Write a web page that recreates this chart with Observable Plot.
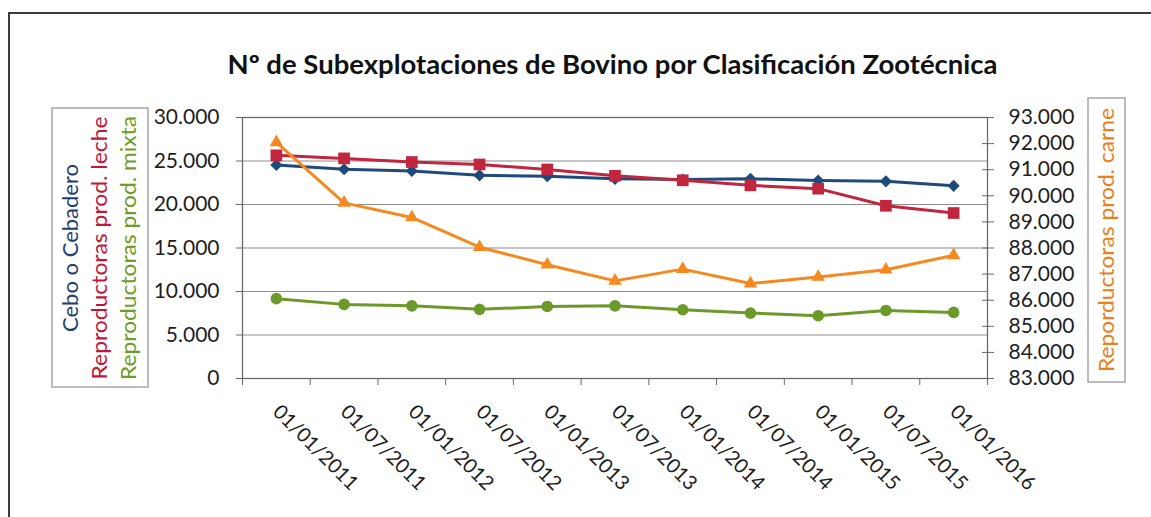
<!DOCTYPE html>
<html><head><meta charset="utf-8">
<script src="https://cdn.jsdelivr.net/npm/d3@7"></script>
<script src="https://cdn.jsdelivr.net/npm/@observablehq/plot@0.6"></script>
<style>
body{margin:0;background:#fff;}
#wrap{position:relative;width:1151px;height:517px;overflow:hidden;background:#fff;}
#frame{position:absolute;left:8px;top:12px;width:1300px;height:700px;border:2px solid #3c3c3c;}
.layer{position:absolute;left:0;top:0;}
</style>
</head><body>
<div id="wrap">
  <div id="frame"></div>
  <svg id="deco" class="layer" width="1151" height="517" font-family="Lato, sans-serif">
    <text id="title" x="612.5" y="74" text-anchor="middle" font-weight="bold" font-size="26" fill="#111" textLength="770" lengthAdjust="spacingAndGlyphs">Nº de Subexplotaciones de Bovino por Clasificación Zootécnica</text>
    <rect x="52" y="108" width="96" height="279" fill="none" stroke="#a6a6a6" stroke-width="1.5"/>
    <rect x="1088" y="98" width="37" height="284" fill="none" stroke="#a6a6a6" stroke-width="1.5"/>
    <g id="legL" font-size="20.5"></g>
    <g id="legR" font-size="20.5"></g>
  </svg>
  <div id="p1" class="layer"></div>
  <div id="p2" class="layer"></div>
</div>
<script>
// ---- data ----
const fechas = ["01/01/2011","01/07/2011","01/01/2012","01/07/2012","01/01/2013","01/07/2013","01/01/2014","01/07/2014","01/01/2015","01/07/2015","01/01/2016"];
const cebo  = [24550, 24050, 23850, 23350, 23250, 22950, 22870, 22950, 22760, 22660, 22150];
const leche = [25650, 25300, 24880, 24600, 24030, 23300, 22780, 22200, 21820, 19850, 19020];
const mixta = [9180, 8520, 8350, 7950, 8280, 8350, 7900, 7520, 7220, 7820, 7600];
const carne = [92050, 89730, 89170, 88030, 87360, 86740, 87190, 86640, 86890, 87170, 87720];
const ticksL = [0, 5000, 10000, 15000, 20000, 25000, 30000];
const ticksR = [83000, 84000, 85000, 86000, 87000, 88000, 89000, 90000, 91000, 92000, 93000];
const series = ["Cebo o Cebadero", "Reproductoras prod. leche", "Reproductoras prod. mixta"];
const series2 = ["Reporductoras prod. carne"];
const colors = {cebo: "#1f4a7c", leche: "#c0263e", mixta: "#6c9a2a", carne: "#f5891f"};
const textColors = ["#1f3f70", "#c01838", "#6f9b28"];
const textColor2 = "#e8801c";
const title = "Nº de Subexplotaciones de Bovino por Clasificación Zootécnica";

// ---- helpers ----
const fmt = d3.formatLocale({decimal: ",", thousands: ".", grouping: [3], currency: ["", " €"]}).format(",");
const idx = d3.range(fechas.length);
const rows = idx.map(i => ({i, fecha: fechas[i], cebo: cebo[i], leche: leche[i], mixta: mixta[i], carne: carne[i]}));
const bounds = d3.range(fechas.length + 1).map(k => k - 0.5);

const base = {
  width: 1151, height: 517,
  marginLeft: 242, marginRight: 164, marginTop: 117, marginBottom: 139,
  style: {fontFamily: "Lato, sans-serif", fontSize: "20px", color: "#1e1e1e", background: "transparent", overflow: "visible"}
};
const axisGray = "#6a6a6a";

const p1 = Plot.plot({
  ...base,
  x: {type: "linear", domain: [-0.5, fechas.length - 0.5]},
  y: {domain: [0, 30000]},
  marks: [
    Plot.gridY(ticksL, {stroke: "#8c8c8c", strokeOpacity: 1}),
    Plot.frame({stroke: axisGray, strokeWidth: 1.3}),
    Plot.axisY(ticksL, {anchor: "left", label: null, tickSize: 6, tickPadding: 17, fontSize: 21, tickFormat: fmt, stroke: axisGray}),
    Plot.axisX(idx, {anchor: "bottom", label: null, tickSize: 0, tickRotate: 45, tickPadding: 30, tickFormat: i => fechas[i]}),
    Plot.axisX(bounds, {anchor: "bottom", label: null, tickSize: 7, tickFormat: () => "", stroke: axisGray}),
    Plot.line(rows, {x: "i", y: "cebo", stroke: colors.cebo, strokeWidth: 3}),
    Plot.dot(rows, {x: "i", y: "cebo", symbol: "diamond2", r: 5.5, fill: colors.cebo}),
    Plot.line(rows, {x: "i", y: "leche", stroke: colors.leche, strokeWidth: 3}),
    Plot.dot(rows, {x: "i", y: "leche", symbol: "square", r: 6.6, fill: colors.leche}),
    Plot.line(rows, {x: "i", y: "mixta", stroke: colors.mixta, strokeWidth: 3}),
    Plot.dot(rows, {x: "i", y: "mixta", symbol: "circle", r: 5.8, fill: colors.mixta})
  ]
});
document.getElementById("p1").append(p1);

const p2 = Plot.plot({
  ...base,
  x: {type: "linear", domain: [-0.5, fechas.length - 0.5], axis: null},
  y: {domain: [83000, 93000]},
  marks: [
    Plot.axisY(ticksR, {anchor: "right", label: null, tickSize: 6, tickPadding: 15, fontSize: 21, tickFormat: fmt, stroke: axisGray}),
    Plot.axisY(ticksR, {anchor: "right", label: null, tickSize: 6, dx: -6, tickFormat: () => "", stroke: axisGray}),
    Plot.line(rows, {x: "i", y: "carne", stroke: colors.carne, strokeWidth: 3}),
    Plot.dot(rows, {x: "i", y: "carne", symbol: "triangle", r: 5, fill: colors.carne})
  ]
});
document.getElementById("p2").append(p2);

// ---- legends (rotated text) ----
const ns = "http://www.w3.org/2000/svg";
const legL = document.getElementById("legL");
const baseX = [77.5, 106.5, 135.5];
const lens = [168, 263, 264];
series.forEach((s, k) => {
  const t = document.createElementNS(ns, "text");
  t.setAttribute("transform", `translate(${baseX[k]},248) rotate(-90)`);
  t.setAttribute("text-anchor", "middle");
  t.setAttribute("fill", textColors[k]);
  t.setAttribute("textLength", lens[k]);
  t.setAttribute("lengthAdjust", "spacingAndGlyphs");
  t.textContent = s;
  legL.append(t);
});
const legR = document.getElementById("legR");
series2.forEach(s => {
  const t = document.createElementNS(ns, "text");
  t.setAttribute("transform", `translate(1113.5,240) rotate(-90)`);
  t.setAttribute("text-anchor", "middle");
  t.setAttribute("fill", textColor2);
  t.setAttribute("textLength", 264);
  t.setAttribute("lengthAdjust", "spacingAndGlyphs");
  t.textContent = s;
  legR.append(t);
});
document.getElementById("title").textContent = title;
</script>
</body></html>
